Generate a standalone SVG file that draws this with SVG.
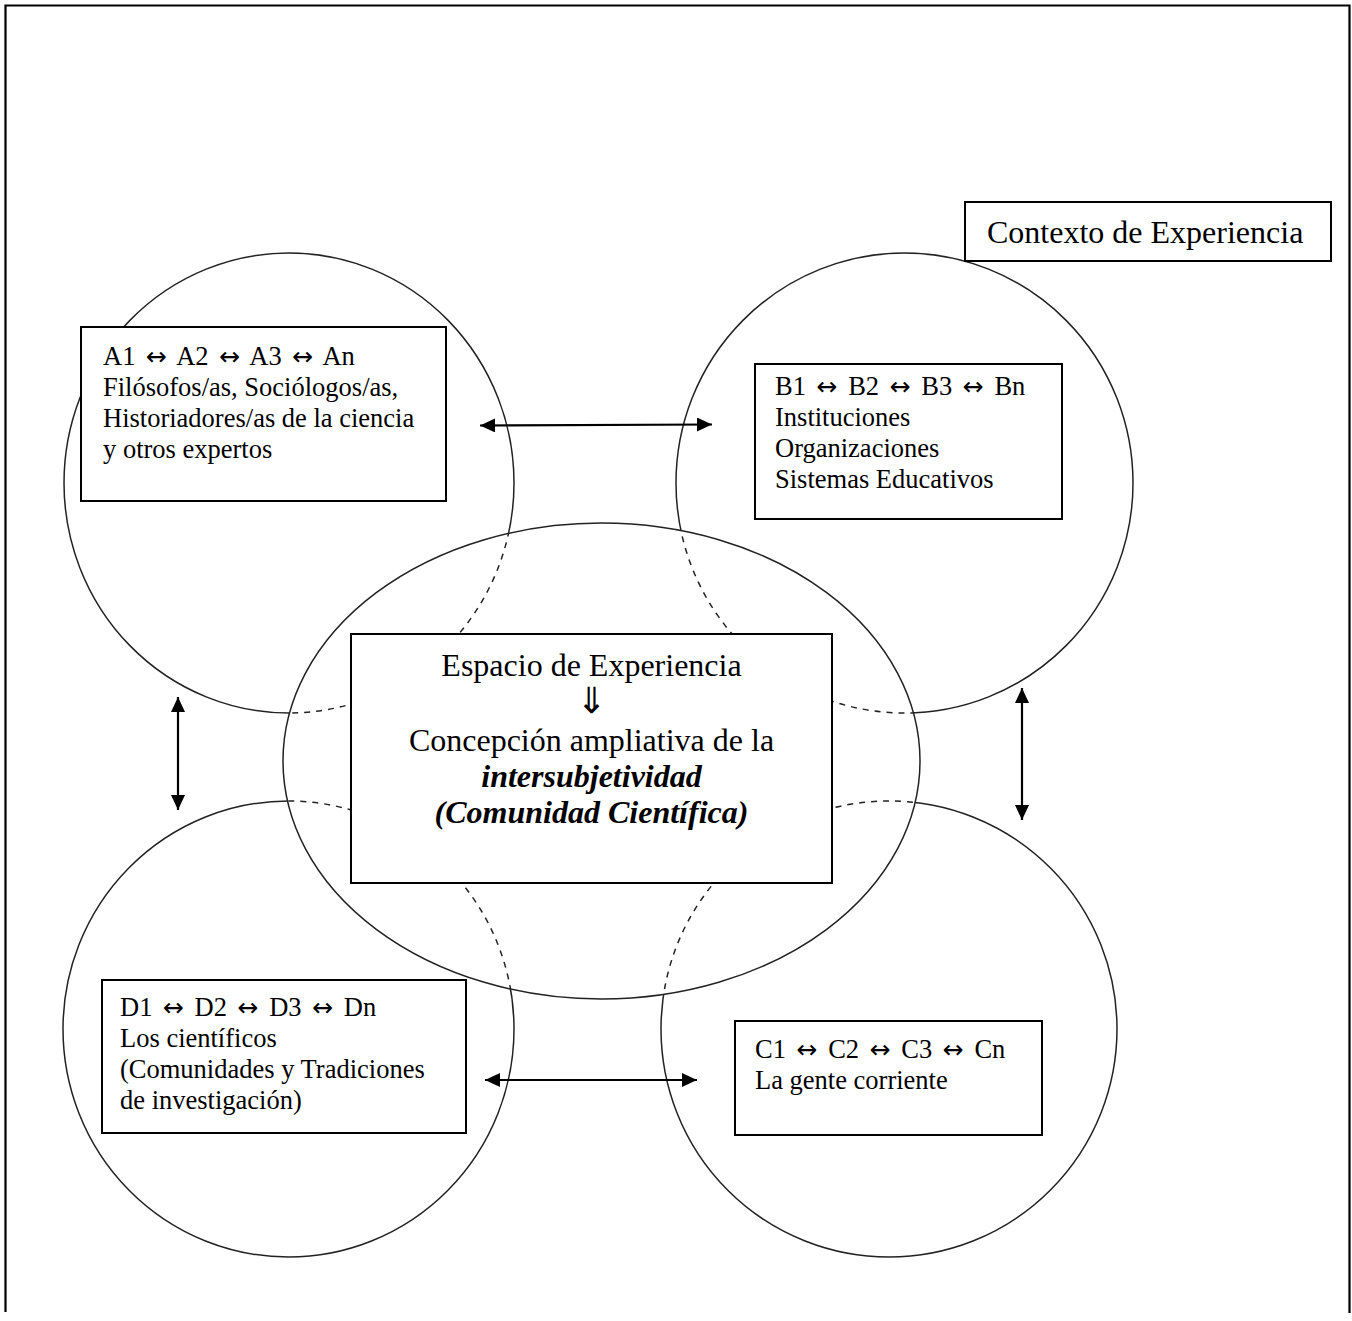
<svg xmlns="http://www.w3.org/2000/svg" width="1352" height="1321" viewBox="0 0 1352 1321">
<style>
.t{font-family:"Liberation Serif","DejaVu Serif",serif;fill:#000;}
.s{font-size:26.5px;}
.l{font-size:32px;}
.bi{font-weight:bold;font-style:italic;}
.ar{font-family:"DejaVu Sans",sans-serif;font-size:25px;}
.dar{font-family:"DejaVu Sans",sans-serif;font-size:36px;font-weight:normal;}
.box{fill:#fff;stroke:#000;stroke-width:2;}
.circ{fill:none;stroke:#222;stroke-width:1.5;}
.dash{fill:none;stroke:#222;stroke-width:1.5;stroke-dasharray:6 6;}
.arr{stroke:#000;stroke-width:2.2;marker-start:url(#ah);marker-end:url(#ah);}
</style>
<defs>
<marker id="ah" markerUnits="userSpaceOnUse" markerWidth="16" markerHeight="14" refX="15" refY="7" orient="auto-start-reverse">
<path d="M0,0 L15,7 L0,14 z" fill="#000"/>
</marker>
<clipPath id="inside"><ellipse cx="601.5" cy="761" rx="318.5" ry="238"/></clipPath>
<mask id="outside"><rect width="1352" height="1321" fill="#fff"/><ellipse cx="601.5" cy="761" rx="318.5" ry="238" fill="#000"/></mask>
</defs>
<rect width="1352" height="1321" fill="#fff"/>
<path d="M5.5,1312 V5.5 H1349.5 V1313" fill="none" stroke="#000" stroke-width="2.2"/>

<g id="circles">
<g id="circleA">
<ellipse class="circ" cx="289" cy="483" rx="225" ry="230" mask="url(#outside)"/>
<ellipse class="dash" cx="289" cy="483" rx="225" ry="230" clip-path="url(#inside)"/>
</g>
<g id="circleB">
<ellipse class="circ" cx="904.5" cy="483" rx="228.5" ry="230" mask="url(#outside)"/>
<ellipse class="dash" cx="904.5" cy="483" rx="228.5" ry="230" clip-path="url(#inside)"/>
</g>
<g id="circleD">
<ellipse class="circ" cx="288.5" cy="1029" rx="225.5" ry="228" mask="url(#outside)"/>
<ellipse class="dash" cx="288.5" cy="1029" rx="225.5" ry="228" clip-path="url(#inside)"/>
</g>
<g id="circleC">
<ellipse class="circ" cx="889" cy="1029" rx="228" ry="228" mask="url(#outside)"/>
<ellipse class="dash" cx="889" cy="1029" rx="228" ry="228" clip-path="url(#inside)"/>
</g>
<g id="centerEllipse">
<ellipse class="circ" cx="601.5" cy="761" rx="318.5" ry="238"/>
</g>
</g>

<g id="connectors">
<line class="arr" x1="480" y1="425.5" x2="712" y2="424.5"/>
<line class="arr" x1="178" y1="697" x2="178" y2="810"/>
<line class="arr" x1="1022" y1="688" x2="1022" y2="820"/>
<line class="arr" x1="485" y1="1080" x2="697" y2="1080"/>
</g>

<g id="context">
<rect class="box" x="965" y="202" width="366" height="59"/>
<text class="t l" x="987" y="243">Contexto de Experiencia</text>
</g>

<g id="nodeA">
<rect class="box" x="81" y="327" width="365" height="174"/>
<text class="t s" x="103" y="365">A1 <tspan class="ar" dx="4">↔</tspan><tspan dx="4"> A2 </tspan><tspan class="ar" dx="4">↔</tspan><tspan dx="4"> A3 </tspan><tspan class="ar" dx="4">↔</tspan><tspan dx="4"> An</tspan></text>
<text class="t s" x="103" y="396">Filósofos/as, Sociólogos/as,</text>
<text class="t s" x="103" y="427">Historiadores/as de la ciencia</text>
<text class="t s" x="103" y="458">y otros expertos</text>
</g>

<g id="nodeB">
<rect class="box" x="755" y="364" width="307" height="155"/>
<text class="t s" x="775" y="395">B1 <tspan class="ar" dx="4">↔</tspan><tspan dx="4"> B2 </tspan><tspan class="ar" dx="4">↔</tspan><tspan dx="4"> B3 </tspan><tspan class="ar" dx="4">↔</tspan><tspan dx="4"> Bn</tspan></text>
<text class="t s" x="775" y="426">Instituciones</text>
<text class="t s" x="775" y="457">Organizaciones</text>
<text class="t s" x="775" y="488">Sistemas Educativos</text>
</g>

<g id="nodeCenter">
<rect class="box" x="351" y="634" width="481" height="249"/>
<text class="t l" x="591.5" y="676" text-anchor="middle">Espacio de Experiencia</text>
<text class="t dar" x="591.5" y="713" text-anchor="middle">⇓</text>
<text class="t l" x="591.5" y="751" text-anchor="middle">Concepción ampliativa de la</text>
<text class="t l bi" x="591.5" y="787" text-anchor="middle">intersubjetividad</text>
<text class="t l bi" x="591.5" y="823" text-anchor="middle">(Comunidad Científica)</text>
</g>

<g id="nodeD">
<rect class="box" x="102" y="980" width="364" height="153"/>
<text class="t s" x="120" y="1016">D1 <tspan class="ar" dx="4">↔</tspan><tspan dx="4"> D2 </tspan><tspan class="ar" dx="4">↔</tspan><tspan dx="4"> D3 </tspan><tspan class="ar" dx="4">↔</tspan><tspan dx="4"> Dn</tspan></text>
<text class="t s" x="120" y="1047">Los científicos</text>
<text class="t s" x="120" y="1078">(Comunidades y Tradiciones</text>
<text class="t s" x="120" y="1109">de investigación)</text>
</g>

<g id="nodeC">
<rect class="box" x="735" y="1021" width="307" height="114"/>
<text class="t s" x="755" y="1058">C1 <tspan class="ar" dx="4">↔</tspan><tspan dx="4"> C2 </tspan><tspan class="ar" dx="4">↔</tspan><tspan dx="4"> C3 </tspan><tspan class="ar" dx="4">↔</tspan><tspan dx="4"> Cn</tspan></text>
<text class="t s" x="755" y="1089">La gente corriente</text>
</g>
</svg>
